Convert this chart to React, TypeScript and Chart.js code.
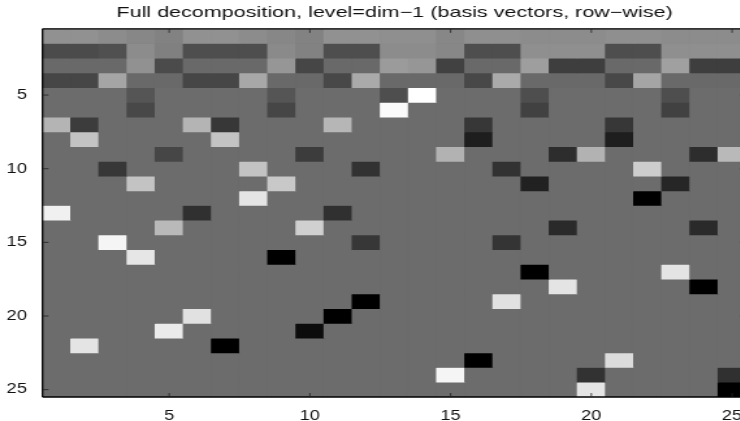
import React, { useEffect, useRef } from "react";
import { Chart, registerables } from "chart.js";

Chart.register(...registerables);

const chartTitle = "Full decomposition, level=dim\u22121 (basis vectors, row\u2212wise)";
const columns = Array.from({ length: 25 }, (_, i) => String(i + 1));
const xTickLabels = ["5", "10", "15", "20", "25"];
const yTickValues = [5, 10, 15, 20, 25];

const o = 108;
const row01 = [145,145,140,135,130,145,145,140,135,130,145,145,143,143,135,143,143,140,140,140,143,143,140,140,140];
const row02 = [75,75,80,140,128,78,78,78,138,130,78,78,140,140,135,78,78,143,143,143,78,78,143,143,143];
const row03 = [105,105,105,145,75,105,105,105,150,70,105,105,155,150,65,105,105,158,62,62,105,105,160,62,62];
const row04 = [70,70,165,105,105,70,70,168,105,105,72,170,105,105,105,72,170,105,105,105,72,165,105,105,105];
const row05 = [o,o,o,85,o,o,o,o,85,o,o,o,78,255,o,o,o,78,o,o,o,o,78,o,o];
const row06 = [o,o,o,72,o,o,o,o,70,o,o,o,250,o,o,o,o,65,o,o,o,o,65,o,o];
const row07 = [180,60,o,o,o,180,55,o,o,o,182,o,o,o,o,55,o,o,o,o,55,o,o,o,o];
const row08 = [o,195,o,o,o,o,195,o,o,o,o,o,o,o,o,30,o,o,o,o,30,o,o,o,o];
const row09 = [o,o,o,o,70,o,o,o,o,60,o,o,o,o,178,o,o,o,45,178,o,o,o,45,185];
const row10 = [o,o,55,o,o,o,o,195,o,o,o,50,o,o,o,o,50,o,o,o,o,205,o,o,o];
const row11 = [o,o,o,195,o,o,o,o,200,o,o,o,o,o,o,o,o,33,o,o,o,o,38,o,o];
const row12 = [o,o,o,o,o,o,o,228,o,o,o,o,o,o,o,o,o,o,o,o,o,0,o,o,o];
const row13 = [240,o,o,o,o,48,o,o,o,o,48,o,o,o,o,o,o,o,o,o,o,o,o,o,o];
const row14 = [o,o,o,o,185,o,o,o,o,208,o,o,o,o,o,o,o,o,42,o,o,o,o,42,o];
const row15 = [o,o,245,o,o,o,o,o,o,o,o,55,o,o,o,o,52,o,o,o,o,o,o,o,o];
const row16 = [o,o,o,230,o,o,o,o,0,o,o,o,o,o,o,o,o,o,o,o,o,o,o,o,o];
const row17 = [o,o,o,o,o,o,o,o,o,o,o,o,o,o,o,o,o,0,o,o,o,o,228,o,o];
const row18 = [o,o,o,o,o,o,o,o,o,o,o,o,o,o,o,o,o,o,228,o,o,o,o,0,o];
const row19 = [o,o,o,o,o,o,o,o,o,o,o,0,o,o,o,o,225,o,o,o,o,o,o,o,o];
const row20 = [o,o,o,o,o,225,o,o,o,o,0,o,o,o,o,o,o,o,o,o,o,o,o,o,o];
const row21 = [o,o,o,o,235,o,o,o,o,12,o,o,o,o,o,o,o,o,o,o,o,o,o,o,o];
const row22 = [o,228,o,o,o,o,0,o,o,o,o,o,o,o,o,o,o,o,o,o,o,o,o,o,o];
const row23 = [o,o,o,o,o,o,o,o,o,o,o,o,o,o,o,0,o,o,o,o,220,o,o,o,o];
const row24 = [o,o,o,o,o,o,o,o,o,o,o,o,o,o,245,o,o,o,o,50,o,o,o,o,48];
const row25 = [o,o,o,o,o,o,o,o,o,o,o,o,o,o,o,o,o,o,o,228,o,o,o,o,0];
const rows = [row01,row02,row03,row04,row05,row06,row07,row08,row09,row10,row11,row12,row13,row14,row15,row16,row17,row18,row19,row20,row21,row22,row23,row24,row25];

const stretch = 1.3;
const titleStretch = 1.143;
const fullWidth = 790;
const gray = (v: number) => `rgb(${v},${v},${v})`;

export default function App() {
  const ref = useRef<HTMLCanvasElement>(null);
  useEffect(() => {
    const canvas = ref.current!;
    const frame = {
      id: "frame",
      afterLayout(chart: any) {
        const tb = chart.titleBlock;
        if (!tb || tb.__wide) return;
        tb.__wide = true;
        const draw = tb.draw;
        tb.draw = function (this: any) {
          const c = this.ctx;
          c.save();
          c.translate(chart.width / 2, 0);
          c.scale(titleStretch, 1);
          c.translate(-(this.left + this.right) / 2, 0);
          draw.call(this);
          c.restore();
        };
      },
      beforeDatasetsDraw(chart: any) {
        const { ctx, chartArea: a } = chart;
        ctx.save();
        ctx.fillStyle = gray(o);
        ctx.fillRect(a.left, a.top, a.right - a.left, a.bottom - a.top);
        ctx.restore();
      },
      afterDraw(chart: any) {
        const { ctx, chartArea: a, scales } = chart;
        ctx.save();
        ctx.strokeStyle = "#000";
        ctx.lineWidth = 1.3;
        ctx.beginPath();
        ctx.moveTo(a.left, a.top); ctx.lineTo(a.right, a.top);
        ctx.moveTo(a.left, a.top); ctx.lineTo(a.left, a.bottom);
        ctx.moveTo(a.left, a.bottom); ctx.lineTo(a.right, a.bottom);
        ctx.moveTo(a.right, a.top); ctx.lineTo(a.right, a.bottom);
        ctx.stroke();
        ctx.strokeStyle = "#222";
        ctx.lineWidth = 0.8;
        ctx.beginPath();
        const xLen = 4;
        const yLen = 6 / stretch;
        xTickLabels.forEach((t) => {
          const px = scales.x.getPixelForValue(columns.indexOf(t));
          ctx.moveTo(px, a.top); ctx.lineTo(px, a.top + xLen);
          ctx.moveTo(px, a.bottom); ctx.lineTo(px, a.bottom - xLen);
        });
        yTickValues.forEach((t) => {
          const py = scales.y.getPixelForValue(t);
          ctx.moveTo(a.left, py); ctx.lineTo(a.left + yLen, py);
          ctx.moveTo(a.right, py); ctx.lineTo(a.right - yLen, py);
        });
        ctx.stroke();
        ctx.restore();
      },
    };
    const tickFont = { family: "'Liberation Sans'", size: 14 };
    const chart = new Chart(canvas, {
      type: "bar",
      data: {
        labels: columns,
        datasets: rows.map((r, i) => ({
          label: `row ${i + 1}`,
          data: r.map(() => [i + 0.5, i + 1.5]),
          backgroundColor: r.map(gray),
          borderWidth: 0,
          barPercentage: 1,
          categoryPercentage: 1,
          grouped: false,
        })),
      } as any,
      options: {
        responsive: false,
        animation: false,
        layout: { padding: { right: 43 / stretch } },
        plugins: {
          legend: { display: false },
          tooltip: { enabled: false },
          title: {
            display: true,
            text: chartTitle,
            color: "#111",
            font: { family: "'Liberation Sans'", size: 14.5, weight: "normal" },
            padding: { top: 4.4, bottom: 7 },
          },
        },
        scales: {
          x: {
            type: "category",
            offset: true,
            grid: { display: false },
            border: { display: false },
            ticks: {
              autoSkip: false,
              maxRotation: 0,
              color: "#111",
              font: tickFont,
              padding: 3,
              callback(this: any, v: any) {
                const l = columns[v as number];
                return xTickLabels.includes(l) ? l : "";
              },
            },
            afterFit(s: any) { s.height = 24; },
          },
          y: {
            type: "linear",
            reverse: true,
            min: 0.5,
            max: 25.5,
            grid: { display: false },
            border: { display: false },
            afterBuildTicks(s: any) { s.ticks = yTickValues.map((value) => ({ value })); },
            ticks: { color: "#111", font: tickFont, padding: 4 },
            afterFit(s: any) { s.width = 42.5 / stretch; },
          },
        },
      } as any,
      plugins: [frame],
    });
    return () => chart.destroy();
  }, []);
  return (
    <div style={{ position: "fixed", left: 0, top: 0, width: 740, height: 421, overflow: "hidden", background: "#fff" }}>
      <div style={{ transform: `scaleX(${stretch})`, transformOrigin: "0 0", width: fullWidth / stretch }}>
        <canvas ref={ref} width={fullWidth / stretch} height={421} style={{ display: "block" }} />
      </div>
    </div>
  );
}
